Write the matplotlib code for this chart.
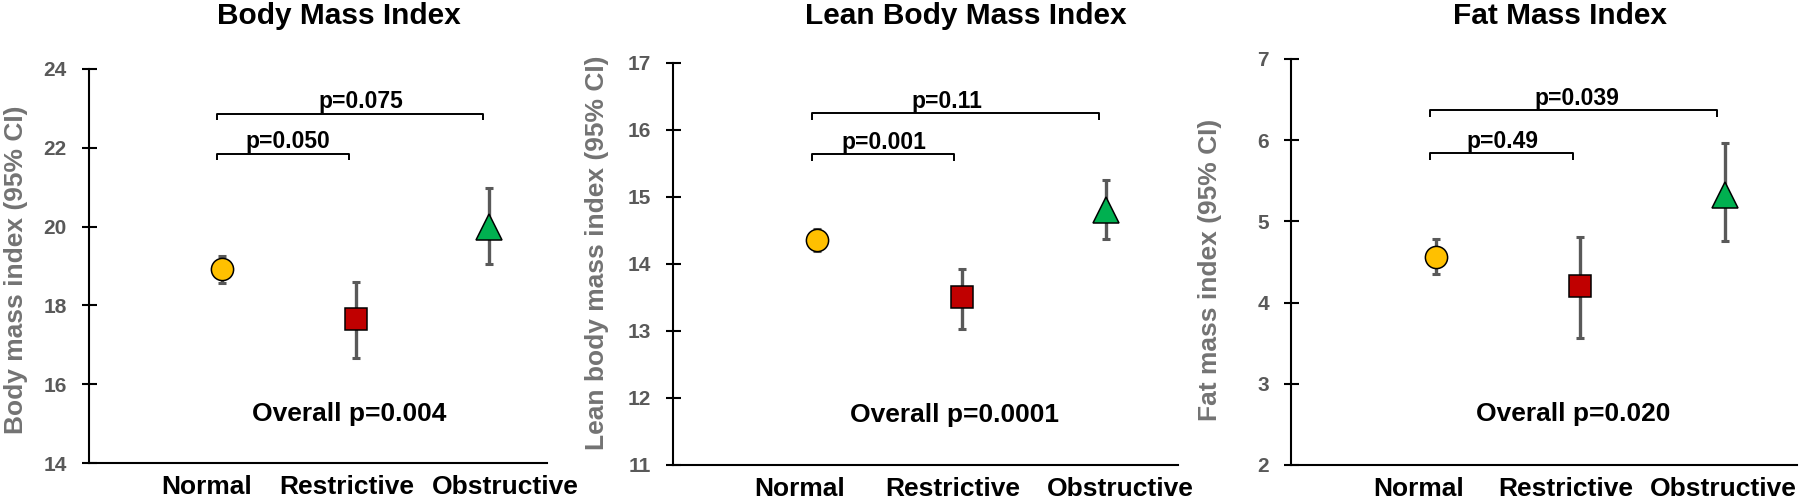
import matplotlib
matplotlib.use('Agg')
import matplotlib.pyplot as plt

plt.rcParams['font.family'] = ['Liberation Sans', 'DejaVu Sans']
plt.rcParams['font.weight'] = 'bold'

# ---------- data ----------------------------------------------------------
categories = ['Normal', 'Restrictive', 'Obstructive']
titles = ['Body Mass Index', 'Lean Body Mass Index', 'Fat Mass Index']
ylabels = ['Body mass index (95% CI)', 'Lean body mass index (95% CI)',
           'Fat mass index (95% CI)']

bmi_mean = [18.92, 17.65, 19.98]
bmi_lo = [18.57, 16.67, 19.05]
bmi_hi = [19.25, 18.60, 20.97]

lbmi_mean = [14.36, 13.51, 14.81]
lbmi_lo = [14.19, 13.03, 14.37]
lbmi_hi = [14.52, 13.93, 15.25]

fmi_mean = [4.56, 4.20, 5.33]
fmi_lo = [4.35, 3.56, 4.76]
fmi_hi = [4.78, 4.81, 5.96]

# pairwise p-values: (Normal vs Restrictive), (Normal vs Obstructive)
bmi_p = ['p=0.050', 'p=0.075']
lbmi_p = ['p=0.001', 'p=0.11']
fmi_p = ['p=0.49', 'p=0.039']
bracket_y = [[21.84, 22.86], [15.64, 16.25], [5.84, 6.37]]
overall_p = ['Overall p=0.004', 'Overall p=0.0001', 'Overall p=0.020']

y_ticks = [list(range(14, 25, 2)), list(range(11, 18)), list(range(2, 8))]

# ---------- styling -------------------------------------------------------
marker_styles = [('o', '#FFC000', 16), ('s', '#C00000', 16), ('^', '#00B050', 19)]
err_colour = '#595959'
tick_colour = '#595959'
label_colour = '#737373'

panels = [
    (bmi_mean, bmi_lo, bmi_hi, bmi_p),
    (lbmi_mean, lbmi_lo, lbmi_hi, lbmi_p),
    (fmi_mean, fmi_lo, fmi_hi, fmi_p),
]
# axes rectangles in figure fractions
rects = [[0.0494, 0.0813, 0.2544, 0.782],
         [0.3739, 0.0774, 0.2806, 0.7976],
         [0.7172, 0.0774, 0.2811, 0.8056]]
xmax = [3.43, 3.5, 3.5]
ylabel_x = [-0.133, -0.127, -0.136]
ylabel_y = [0.49, 0.527, 0.48]
title_x = [339 / 1800, 966 / 1800, 1560 / 1800]
label_x = [[0.88, 1.93, 3.12], [0.88, 1.94, 3.10], [0.88, 1.90, 2.99]]
ptext_x = [[1.49, 2.04], [1.46, 1.90], [1.46, 1.98]]

fig = plt.figure(figsize=(18, 5.04), dpi=100)

for k, (mean, lo, hi, pvals) in enumerate(panels):
    ax = fig.add_axes(rects[k])
    xs = [1, 2, 3]
    for i in range(3):
        m, c, ms = marker_styles[i]
        ax.errorbar(xs[i], mean[i],
                    yerr=[[mean[i] - lo[i]], [hi[i] - mean[i]]],
                    fmt='none', ecolor=err_colour, elinewidth=2.4,
                    capsize=3, capthick=2.2, zorder=2)
        ax.plot(xs[i], mean[i], marker=m, markersize=ms,
                markerfacecolor=c, markeredgecolor='black',
                markeredgewidth=1.1, linestyle='none', zorder=3)

    ymin, ymax = y_ticks[k][0], y_ticks[k][-1]
    ax.set_ylim(ymin, ymax)
    ax.set_xlim(0, xmax[k])
    ax.set_yticks(y_ticks[k])

    # brackets
    drop = 0.016 * (ymax - ymin)
    for j, (a, b) in enumerate([(1, 2), (1, 3)]):
        yb = bracket_y[k][j]
        x0, x1 = a - 0.04, b - 0.05
        ax.plot([x0, x0, x1, x1], [yb - drop, yb, yb, yb - drop],
                color='black', lw=1.4, solid_capstyle='butt', zorder=1)
        ax.annotate(pvals[j], xy=(ptext_x[k][j], yb), xytext=(0, 4),
                    textcoords='offset points', ha='center', va='baseline',
                    fontsize=16.5, fontweight='bold')

    ax.text(1.95, ymin + 0.125 * (ymax - ymin), overall_p[k],
            ha='center', va='center', fontsize=19, fontweight='bold')

    for s in ['top', 'right']:
        ax.spines[s].set_visible(False)
    for s in ['left', 'bottom']:
        ax.spines[s].set_linewidth(1.5)
        ax.spines[s].set_color('black')

    ax.tick_params(axis='y', direction='inout', length=10.8, width=1.5,
                   pad=10.5, labelsize=15, labelcolor=tick_colour)
    ax.set_xticks(label_x[k])
    ax.set_xticklabels(categories, fontsize=19, fontweight='bold')
    ax.tick_params(axis='x', length=0, pad=8.5)

    ax.set_ylabel(ylabels[k], fontsize=19, fontweight='bold',
                  color=label_colour)
    ax.yaxis.set_label_coords(ylabel_x[k], ylabel_y[k])

    fig.text(title_x[k], 1 - 24 / 504, titles[k], ha='center',
             va='baseline', fontsize=21.5, fontweight='bold')

fig.savefig('out.png', dpi=100)
